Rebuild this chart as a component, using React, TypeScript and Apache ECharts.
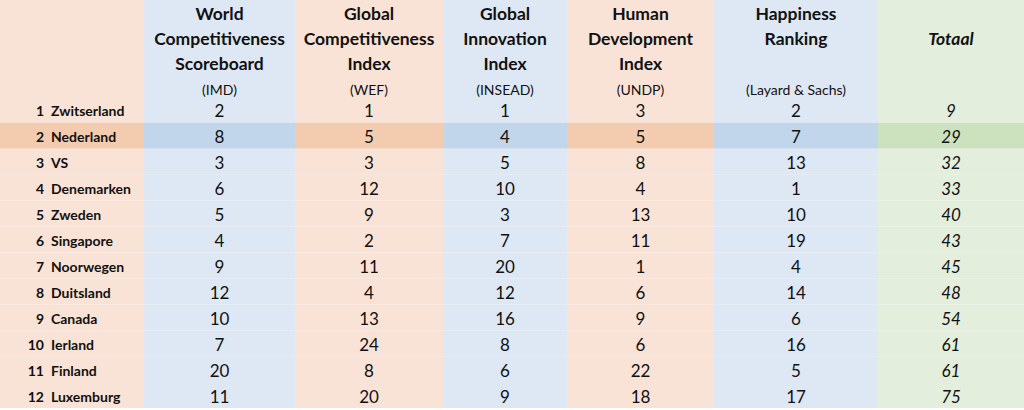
import React, { useEffect, useRef } from "react";
import * as echarts from "echarts";

const countries = ["Zwitserland", "Nederland", "VS", "Denemarken", "Zweden", "Singapore", "Noorwegen", "Duitsland", "Canada", "Ierland", "Finland", "Luxemburg"];
const ranks = [1, 2, 3, 4, 5, 6, 7, 8, 9, 10, 11, 12];
const imd = [2, 8, 3, 6, 5, 4, 9, 12, 10, 7, 20, 11];
const wef = [1, 5, 3, 12, 9, 2, 11, 4, 13, 24, 8, 20];
const insead = [1, 4, 5, 10, 3, 7, 20, 12, 16, 8, 6, 9];
const undp = [3, 5, 8, 4, 13, 11, 1, 6, 9, 6, 22, 18];
const happiness = [2, 7, 13, 1, 10, 19, 4, 14, 6, 16, 5, 17];
const totaal = [9, 29, 32, 33, 40, 43, 45, 48, 54, 61, 61, 75];

const headerLines = [
  ["World", "Competitiveness", "Scoreboard"],
  ["Global", "Competitiveness", "Index"],
  ["Global", "Innovation", "Index"],
  ["Human", "Development", "Index"],
  ["Happiness", "Ranking"],
  ["", "Totaal"],
];
const sources = ["(IMD)", "(WEF)", "(INSEAD)", "(UNDP)", "(Layard & Sachs)", ""];
const highlightRow = 1;

// layout
const colEdges = [0, 144, 295, 443, 567, 714, 878, 1024];
const colKind = ["o", "b", "o", "b", "o", "b", "g"];
const baseColor: Record<string, string> = { o: "#F9E3D6", b: "#DEE8F4", g: "#E3EEDC" };
const hiColor: Record<string, string> = { o: "#F3CCB0", b: "#C1D5EB", g: "#CCE2BE" };
const FONT = "Lato, 'Open Sans', sans-serif";
const HEADER_H = 97;

export default function App() {
  const ref = useRef<HTMLDivElement>(null);
  useEffect(() => {
    const chart = echarts.init(ref.current!, null, { renderer: "svg" });
    const columns = [imd, wef, insead, undp, happiness, totaal];
    const data: number[][] = [];
    countries.forEach((_, r) => {
      data.push([colEdges[0], colEdges[1], r, ranks[r], 0]);
      columns.forEach((arr, c) => {
        data.push([colEdges[c + 1], colEdges[c + 2], r, arr[r], c + 1]);
      });
    });

    const graphic: any[] = [];
    for (let c = 0; c < colEdges.length - 1; c++) {
      graphic.push({
        type: "rect",
        z: 0,
        shape: { x: colEdges[c], y: 0, width: colEdges[c + 1] - colEdges[c], height: HEADER_H },
        style: { fill: baseColor[colKind[c]] },
      });
    }
    const lineY = [13, 38, 63];
    headerLines.forEach((lines, c) => {
      const cx = (colEdges[c + 1] + colEdges[c + 2]) / 2;
      lines.forEach((t, i) => {
        if (!t) return;
        graphic.push({
          type: "text",
          z: 5,
          style: {
            text: t,
            x: cx,
            y: lineY[i],
            textAlign: "center",
            textVerticalAlign: "middle",
            font: (c === 5 ? "italic " : "") + "bold 17.5px " + FONT,
            fill: "#111",
          },
        });
      });
      if (sources[c]) {
        graphic.push({
          type: "text",
          z: 5,
          style: {
            text: sources[c],
            x: cx,
            y: 89,
            textAlign: "center",
            textVerticalAlign: "middle",
            font: "14px " + FONT,
            fill: "#111",
          },
        });
      }
    });

    const option: any = {
      animation: false,
      grid: { left: 0, right: 0, top: HEADER_H, bottom: 2 },
      xAxis: { type: "value", min: 0, max: 1024, show: false },
      yAxis: { type: "category", data: countries, inverse: true, show: false },
      graphic,
      series: [
        {
          type: "custom",
          encode: { x: [0, 1], y: 2 },
          data,
          renderItem: (params: any, api: any) => {
            const x0 = api.value(0);
            const x1 = api.value(1);
            const r = api.value(2);
            const v = api.value(3);
            const c = api.value(4);
            const p0 = api.coord([x0, r]);
            const p1 = api.coord([x1, r]);
            const h = api.size([0, 1])[1];
            const kind = colKind[c];
            const fill = r === highlightRow ? hiColor[kind] : baseColor[kind];
            const children: any[] = [
              {
                type: "rect",
                shape: { x: p0[0], y: p0[1] - h / 2, width: p1[0] - p0[0], height: h },
                style: { fill },
              },
            ];
            const cy = p0[1] + 1;
            if (c === 0) {
              children.push({
                type: "text",
                style: {
                  text: String(v),
                  x: 44,
                  y: cy,
                  textAlign: "right",
                  textVerticalAlign: "middle",
                  font: "bold 14px " + FONT,
                  fill: "#111",
                },
              });
              children.push({
                type: "text",
                style: {
                  text: countries[r],
                  x: 51,
                  y: cy,
                  textAlign: "left",
                  textVerticalAlign: "middle",
                  font: "bold 14px " + FONT,
                  fill: "#111",
                },
              });
            } else {
              children.push({
                type: "text",
                style: {
                  text: String(v),
                  x: (p0[0] + p1[0]) / 2,
                  y: cy,
                  textAlign: "center",
                  textVerticalAlign: "middle",
                  font: (c === 6 ? "italic " : "") + "17px " + FONT,
                  fill: "#111",
                },
              });
            }
            return { type: "group", children };
          },
        },
      ],
    };
    chart.setOption(option);
    return () => chart.dispose();
  }, []);
  return (
    <div
      ref={ref}
      style={{ position: "fixed", left: 0, top: 0, width: 1024, height: 410, background: "#fff" }}
    />
  );
}
